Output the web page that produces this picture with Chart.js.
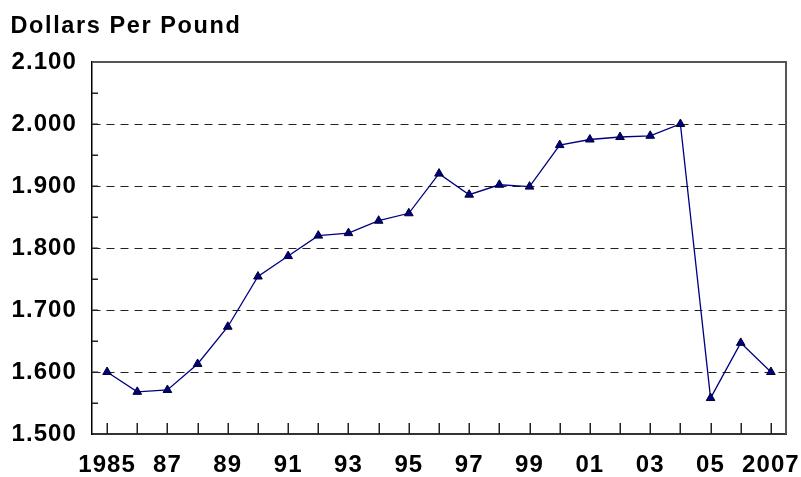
<!DOCTYPE html>
<html>
<head>
<meta charset="utf-8">
<script src="https://cdn.jsdelivr.net/npm/chart.js@4/dist/chart.umd.min.js"></script>
<style>
  html, body { margin: 0; padding: 0; background: #fff; }
  canvas { display: block; }
</style>
</head>
<body>
<canvas id="c" width="801" height="477"></canvas>
<script>
const titleText = 'Dollars Per Pound';
const years = ['1985','1986','1987','1988','1989','1990','1991','1992','1993','1994','1995','1996','1997','1998','1999','2000','2001','2002','2003','2004','2005','2006','2007'];
const prices = [1.600,1.568,1.571,1.613,1.673,1.754,1.787,1.820,1.824,1.844,1.856,1.920,1.886,1.902,1.899,1.966,1.975,1.979,1.981,2.000,1.558,1.647,1.600];
const xTickLabels = ['1985','','87','','89','','91','','93','','95','','97','','99','','01','','03','','05','','2007'];
const yMin = 1.5, yMax = 2.1, yStep = 0.1, yMinorStep = 0.05;

const FONT = "'Liberation Sans', Arial, sans-serif";
const TICK_SPACING = '1.1px';

const spacingPlugin = {
  id: 'spacing',
  beforeLayout(chart) { chart.ctx.letterSpacing = TICK_SPACING; },
  beforeDraw(chart) { chart.ctx.letterSpacing = TICK_SPACING; }
};

const framePlugin = {
  id: 'frame',
  beforeDatasetsDraw(chart) {
    const ctx = chart.ctx;
    const a = chart.chartArea;
    const xs = chart.scales.x, ys = chart.scales.y;
    ctx.save();
    ctx.setLineDash([]);
    ctx.strokeStyle = '#555';
    ctx.lineWidth = 2;
    ctx.beginPath();
    ctx.moveTo(a.left, a.top);
    ctx.lineTo(a.right, a.top);
    ctx.lineTo(a.right, a.bottom);
    ctx.stroke();
    ctx.strokeStyle = '#222';
    ctx.lineWidth = 1.5;
    ctx.beginPath();
    for (let i = 0; i < years.length; i++) {
      const px = Math.round(xs.getPixelForTick(i)) + 0.25;
      ctx.moveTo(px, a.bottom);
      ctx.lineTo(px, a.bottom - 11);
    }
    ctx.stroke();
    ctx.beginPath();
    const n = Math.round((yMax - yMin) / yMinorStep);
    for (let k = 1; k < n; k++) {
      const v = yMin + k * yMinorStep;
      const py = Math.round(ys.getPixelForValue(v)) + 0.25;
      ctx.moveTo(a.left, py);
      ctx.lineTo(a.left + 6, py);
    }
    ctx.stroke();
    ctx.restore();
  },
  afterDraw(chart) {
    const ctx = chart.ctx;
    ctx.save();
    ctx.letterSpacing = '1.6px';
    ctx.font = "bold 23.5px " + FONT;
    ctx.fillStyle = '#000';
    ctx.textAlign = 'left';
    ctx.textBaseline = 'alphabetic';
    ctx.fillText(titleText, 10.5, 33);
    ctx.restore();
  }
};

new Chart(document.getElementById('c'), {
  type: 'line',
  data: {
    labels: years,
    datasets: [{
      data: prices,
      borderColor: '#000080',
      borderWidth: 1.3,
      backgroundColor: '#000080',
      pointStyle: 'triangle',
      pointRadius: 5,
      pointBackgroundColor: '#000080',
      pointBorderColor: '#000030',
      pointBorderWidth: 1,
      tension: 0,
      fill: false
    }]
  },
  options: {
    responsive: false,
    animation: false,
    devicePixelRatio: 1,
    layout: { padding: { left: 0, right: 15, top: 62, bottom: 0 } },
    plugins: { legend: { display: false }, title: { display: false }, tooltip: { enabled: false } },
    scales: {
      x: {
        type: 'category',
        offset: true,
        grid: { display: false, drawTicks: false },
        border: { display: true, color: '#333', width: 2 },
        ticks: {
          autoSkip: false,
          maxRotation: 0,
          minRotation: 0,
          padding: 17,
          color: '#000',
          font: { family: FONT, size: 24, weight: 'bold', lineHeight: 1.2 },
          callback: (v, i) => xTickLabels[i]
        },
        afterFit(scale) { scale.height = 43; scale.paddingLeft = 0; scale.paddingRight = 0; }
      },
      y: {
        min: yMin,
        max: yMax,
        grid: {
          drawTicks: false,
          lineWidth: 1,
          color: (c) => {
            const v = c.tick ? c.tick.value : null;
            if (v === null || Math.abs(v - yMin) < 1e-6 || Math.abs(v - yMax) < 1e-6) return 'rgba(0,0,0,0)';
            return '#222';
          }
        },
        border: { display: true, color: '#000', width: 1.5, dash: [8, 6] },
        ticks: {
          stepSize: yStep,
          padding: 15,
          color: '#000',
          font: { family: FONT, size: 24, weight: 'bold', lineHeight: 1.2 },
          callback: (v) => Number(v).toFixed(3)
        },
        afterFit(scale) { scale.width = 92; scale.paddingTop = 0; scale.paddingBottom = 0; }
      }
    }
  },
  plugins: [spacingPlugin, framePlugin]
});
</script>
</body>
</html>
